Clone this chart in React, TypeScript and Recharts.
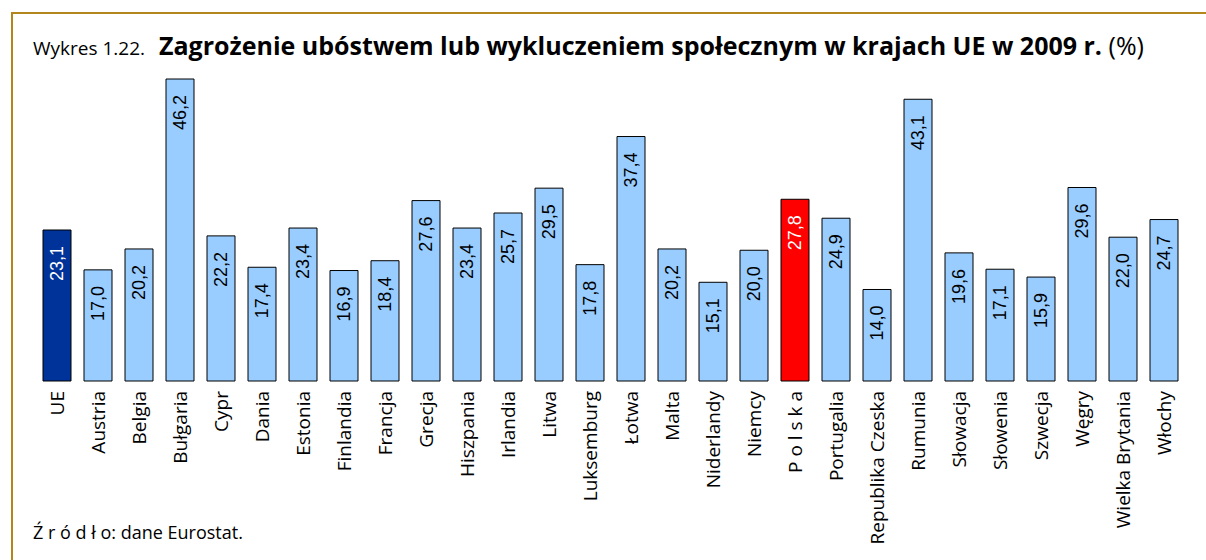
import { BarChart, Bar, XAxis, YAxis, Cell, LabelList } from "recharts";

const countries = [
  "UE", "Austria", "Belgia", "Bułgaria", "Cypr", "Dania", "Estonia", "Finlandia",
  "Francja", "Grecja", "Hiszpania", "Irlandia", "Litwa", "Luksemburg", "Łotwa",
  "Malta", "Niderlandy", "Niemcy", "P o l s k a", "Portugalia", "Republika Czeska",
  "Rumunia", "Słowacja", "Słowenia", "Szwecja", "Węgry", "Wielka Brytania", "Włochy",
];

const values = [
  23.1, 17.0, 20.2, 46.2, 22.2, 17.4, 23.4, 16.9, 18.4, 27.6, 23.4, 25.7, 29.5, 17.8,
  37.4, 20.2, 15.1, 20.0, 27.8, 24.9, 14.0, 43.1, 19.6, 17.1, 15.9, 29.6, 22.0, 24.7,
];

const highlighted: Record<string, string> = { UE: "#003399", "P o l s k a": "#FF0000" };

const data = countries.map((name, i) => ({ name, value: values[i] }));

const fmt = (v: number) => v.toFixed(1).replace(".", ",");

function CountryTick(props: any) {
  const { x, y, payload } = props;
  return (
    <text
      transform={`translate(${x},${y}) rotate(-90)`}
      textAnchor="end"
      dominantBaseline="central"
      fontFamily="'Open Sans', sans-serif"
      fontSize={19}
      fill="#000"
    >
      {payload.value}
    </text>
  );
}

function ValueLabel(props: any) {
  const { x, y, width, value, index } = props;
  const white = highlighted[countries[index]] !== undefined;
  return (
    <text
      transform={`translate(${x + width / 2},${y + 16}) rotate(-90)`}
      textAnchor="end"
      dominantBaseline="central"
      fontFamily="'Liberation Sans', Arial, sans-serif"
      fontSize={18}
      fill={white ? "#fff" : "#000"}
    >
      {fmt(value)}
    </text>
  );
}

export default function App() {
  return (
    <div
      style={{
        position: "absolute",
        left: 0,
        top: 0,
        width: 1206,
        height: 560,
        background: "#fff",
        overflow: "hidden",
        fontFamily: "'Open Sans', sans-serif",
      }}
    >
      <div
        style={{
          position: "absolute",
          left: 11,
          top: 12,
          width: 1300,
          height: 700,
          border: "2px solid #B3861C",
        }}
      />
      <div
        style={{
          position: "absolute",
          left: 33,
          top: 27,
          whiteSpace: "nowrap",
          lineHeight: "36px",
          color: "#000",
        }}
      >
        <span style={{ fontSize: 19 }}>Wykres 1.22.</span>
        <span style={{ fontSize: 25, fontWeight: 700, marginLeft: 14 }}>
          Zagrożenie ubóstwem lub wykluczeniem społecznym w krajach UE w 2009 r.
        </span>
        <span style={{ fontSize: 25 }}> (%)</span>
      </div>
      <div style={{ position: "absolute", left: 0, top: 0 }}>
        <BarChart
          width={1206}
          height={560}
          data={data}
          margin={{ top: 79, right: 22, bottom: 9, left: 36 }}
        >
          <XAxis
            dataKey="name"
            axisLine={false}
            tickLine={false}
            interval={0}
            tick={<CountryTick />}
            tickMargin={4}
            height={170}
          />
          <YAxis hide domain={[0, "dataMax"]} />
          <Bar dataKey="value" barSize={28} stroke="#000" strokeWidth={1} isAnimationActive={false}>
            {data.map((d) => (
              <Cell key={d.name} fill={highlighted[d.name] ?? "#99CCFF"} />
            ))}
            <LabelList dataKey="value" content={<ValueLabel />} />
          </Bar>
        </BarChart>
      </div>
      <div
        style={{
          position: "absolute",
          left: 33,
          top: 520,
          fontSize: 18,
          color: "#000",
          whiteSpace: "nowrap",
        }}
      >
        Ź r ó d ł o: dane Eurostat.
      </div>
    </div>
  );
}
